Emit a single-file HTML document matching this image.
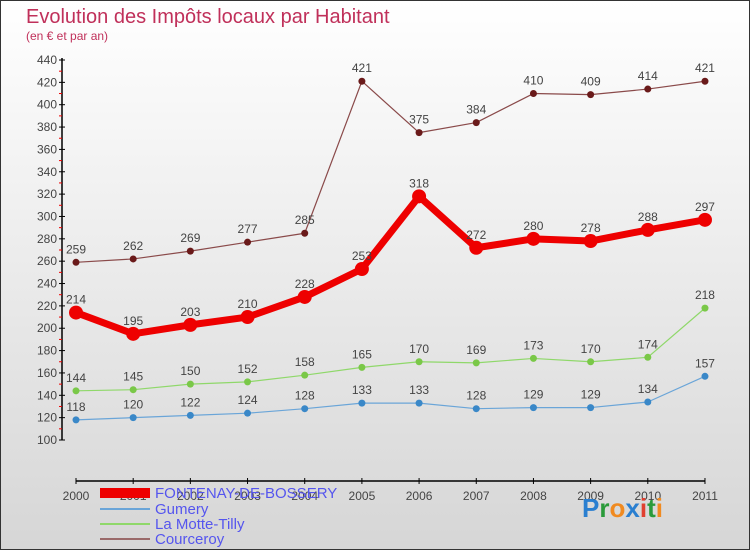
<!DOCTYPE html>
<html><head><meta charset="utf-8"><style>
body{margin:0}
#c{width:750px;height:550px;position:relative;overflow:hidden;box-sizing:border-box;border:1px solid #333;background:linear-gradient(#ffffff,#d6d6d6);font-family:"Liberation Sans",sans-serif}
</style></head><body>
<div id="c">
<svg id="s" width="750" height="550" style="position:absolute;left:-1px;top:-1px">
<text x="26" y="23" font-size="20" fill="#c0305a">Evolution des Impôts locaux par Habitant</text>
<text x="26" y="40" font-size="12" fill="#c0305a">(en € et par an)</text>
<g id="axes"></g><g id="series"></g>
<g>
<rect x="100" y="488" width="50" height="10" fill="#e00"/>
<text x="155" y="498" font-size="15" fill="#5555ee">FONTENAY-DE-BOSSERY</text>
<rect x="100" y="508" width="50" height="2" fill="#6aa5d8"/>
<text x="155" y="514" font-size="15" fill="#5555ee">Gumery</text>
<rect x="100" y="523" width="50" height="2" fill="#8fd86a"/>
<text x="155" y="529" font-size="15" fill="#5555ee">La Motte-Tilly</text>
<rect x="100" y="538" width="50" height="2" fill="#9a6a6a"/>
<text x="155" y="544" font-size="15" fill="#5555ee">Courceroy</text>
</g>
<text x="582" y="517" font-size="26" font-weight="bold"><tspan fill="#2a7fd0">P</tspan><tspan fill="#2a9a3a">r</tspan><tspan fill="#f08a20">o</tspan><tspan fill="#2a7fd0">x</tspan><tspan fill="#e04030">i</tspan><tspan fill="#2a9a3a">t</tspan><tspan fill="#f08a20">i</tspan></text>
</svg></div>
<script>
const years=["2000","2001","2002","2003","2004","2005","2006","2007","2008","2009","2010","2011"];
const yTicks=[100,120,140,160,180,200,220,240,260,280,300,320,340,360,380,400,420,440];
const fontenay=[214,195,203,210,228,253,318,272,280,278,288,297];
const gumery=[118,120,122,124,128,133,133,128,129,129,134,157];
const motte=[144,145,150,152,158,165,170,169,173,170,174,218];
const courceroy=[259,262,269,277,285,421,375,384,410,409,414,421];
const NS="http://www.w3.org/2000/svg";
const X=i=>76+i*57.18, Y=v=>440-(v-100)*380/340;
function mk(t,a,p){const e=document.createElementNS(NS,t);for(const k in a)e.setAttribute(k,a[k]);p.appendChild(e);return e;}
const ax=document.getElementById('axes');
let l=mk('line',{x1:62,y1:58,x2:62,y2:440,stroke:'#000','stroke-width':1.5},ax);

yTicks.forEach(v=>{mk('line',{x1:59,x2:65,y1:Y(v),y2:Y(v),stroke:'#000'},ax);
 if(v<440)mk('line',{x1:59,x2:62,y1:Y(v+10),y2:Y(v+10),stroke:'#e00'},ax);
 const t=mk('text',{x:57,y:Y(v)+4,'font-size':12,'text-anchor':'end',fill:'#444'},ax);t.textContent=v;
 });
l=mk('line',{x1:76,y1:481,x2:705,y2:481,stroke:'#000','stroke-width':1.5},ax);

years.forEach((y,i)=>{mk('line',{x1:X(i),x2:X(i),y1:478,y2:484,stroke:'#000'},ax);
 const t=mk('text',{x:X(i),y:500,'font-size':12,'text-anchor':'middle',fill:'#444'},ax);t.textContent=y;
 });
const sg=document.getElementById('series');
function draw(d,name,color,w,r,dot){
 const p=mk('polyline',{points:d.map((v,i)=>X(i)+','+Y(v)).join(' '),fill:'none',stroke:color,'stroke-width':w,'stroke-linejoin':'round'},sg);
 
 d.forEach((v,i)=>{const c=mk('circle',{cx:X(i),cy:Y(v),r:r,fill:dot},sg);
  
  const t=mk('text',{x:X(i),y:Y(v)-9,'font-size':12,'text-anchor':'middle',fill:'#444'},sg);t.textContent=v;
  });
}
draw(courceroy,'courceroy','#8a4a4a',1.2,3.5,'#6a1a1a');
draw(motte,'la-motte-tilly','#8fd86a',1.2,3.5,'#7ac848');
draw(gumery,'gumery','#6aa5d8',1.2,3.5,'#3a88c8');
draw(fontenay,'fontenay','#ee0000',7,7,'#ee0000');
</script></body></html>
